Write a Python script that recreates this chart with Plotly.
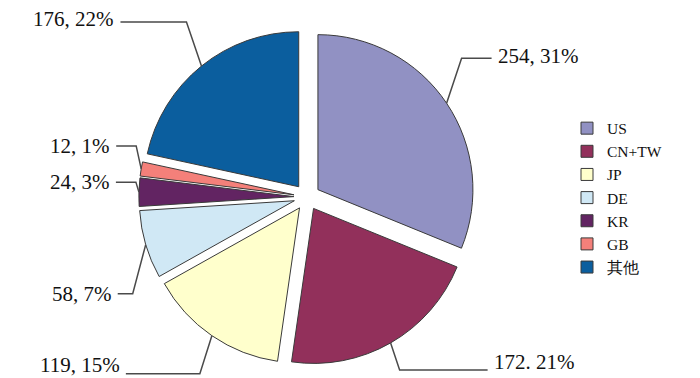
import math
import plotly.graph_objects as go

# ---- data ----
categories = ["US", "CN+TW", "JP", "DE", "KR", "GB", "其他"]
values = [254, 172, 119, 58, 24, 12, 176]
label_texts = ["254, 31%", "172. 21%", "119, 15%", "58, 7%", "24, 3%", "12, 1%", "176, 22%"]

# ---- style ----
colors = ["#9191C3", "#92305B", "#FFFFCC", "#D0E8F5", "#622462", "#F4807A", "#0B5E9E"]
W, H = 700, 378
CX, CY = 307, 197          # pie centre in pixels
RAD = 155                  # pie radius in pixels
PULL = 0.085
FONT = "Liberation Serif, Times New Roman, serif"

# leader-line elbow offsets (px, relative to slice edge) and horizontal run length
elbow = [(15, -45), (9, 27), (-12, 38), (-13, 49), (-3, -10), (-5, -23), (-15, -44)]
run = [30, 88, 74, 15, 20, 20, 66]
text_dy = [-2, -8, -9, 0, 0, 0, -3]

fig = go.Figure()

R_out = RAD * (1 + PULL)
dom_x = [(CX - R_out) / W, (CX + R_out) / W]
dom_y = [1 - (CY + R_out) / H, 1 - (CY - R_out) / H]

fig.add_trace(go.Pie(
    labels=categories,
    values=values,
    sort=False,
    direction="clockwise",
    rotation=0,
    pull=[PULL] * len(values),
    marker=dict(colors=colors, line=dict(color="#3a3a3a", width=1)),
    textinfo="none",
    hoverinfo="label+value+percent",
    domain=dict(x=dom_x, y=dom_y),
))

def px2paper(x, y):
    return x / W, 1 - y / H

total = sum(values)
cum = 0
shapes = []
annotations = []
for i, v in enumerate(values):
    mid = (cum + v / 2) / total * 2 * math.pi
    cum += v
    ux, uy = math.sin(mid), -math.cos(mid)
    x0, y0 = CX + R_out * ux, CY + R_out * uy
    x1, y1 = x0 + elbow[i][0], y0 + elbow[i][1]
    side = 1 if ux > 0 else -1
    x2 = x1 + side * run[i]
    p0 = px2paper(x0, y0)
    p1 = px2paper(x1, y1)
    p2 = px2paper(x2, y1)
    shapes.append(dict(
        type="path", xref="paper", yref="paper",
        path=f"M {p0[0]},{p0[1]} L {p1[0]},{p1[1]} L {p2[0]},{p2[1]}",
        line=dict(color="#4a4a4a", width=1.5),
    ))
    tx, ty = px2paper(x2 + side * 4, y1 + text_dy[i])
    annotations.append(dict(
        x=tx, y=ty, xref="paper", yref="paper",
        text=label_texts[i], showarrow=False,
        xanchor="left" if side > 0 else "right", yanchor="middle",
        font=dict(family=FONT, size=21, color="#111111"),
    ))

fig.update_layout(
    width=W, height=H,
    margin=dict(l=0, r=0, t=0, b=0),
    paper_bgcolor="white",
    plot_bgcolor="white",
    shapes=shapes,
    annotations=annotations,
    showlegend=True,
    legend=dict(
        x=0.81, y=0.476, xanchor="left", yanchor="middle",
        font=dict(family=FONT, size=15.5, color="#111111"),
        tracegroupgap=0, itemwidth=30,
        bgcolor="rgba(0,0,0,0)",
    ),
)

fig.write_html(
    "out.html",
    config={"displayModeBar": False},
    post_script="document.body.style.margin='0';document.body.style.padding='0';",
)
